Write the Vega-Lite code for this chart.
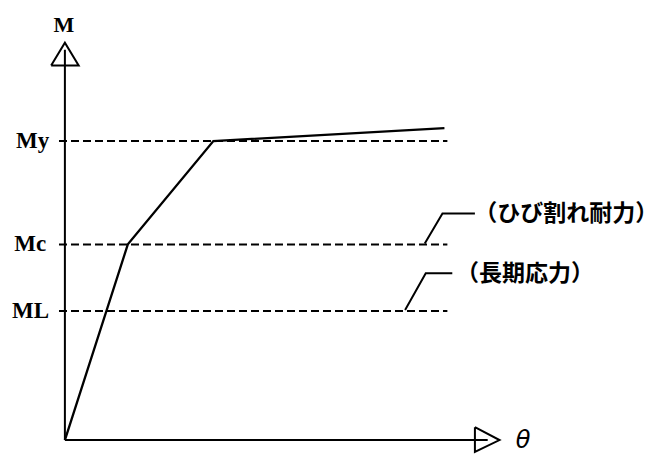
{
  "$schema": "https://vega.github.io/schema/vega-lite/v6.json",
  "width": 657,
  "height": 456,
  "autosize": {"type": "fit", "contains": "padding"},
  "padding": 0,
  "background": "white",
  "config": {"view": {"stroke": null}},
  "datasets": {
    "curve": [
      {"t": 0, "m": 0},
      {"t": 64, "m": 197},
      {"t": 151, "m": 301},
      {"t": 386, "m": 314}
    ],
    "levels": [
      {"name": "My", "t": -6, "t2": 389, "m": 301},
      {"name": "Mc", "t": -6, "t2": 389, "m": 197},
      {"name": "ML", "t": -6, "t2": 389, "m": 130}
    ],
    "axes": [
      {"axis": "M", "t": 0, "m": 0, "t2": 0, "m2": 393},
      {"axis": "θ", "t": 0, "m": 0, "t2": 430, "m2": 0}
    ],
    "arrows": [
      {"axis": "M", "i": 0, "t": -14, "m": 377},
      {"axis": "M", "i": 1, "t": 0, "m": 400},
      {"axis": "M", "i": 2, "t": 14, "m": 377},
      {"axis": "M", "i": 3, "t": -14, "m": 377},
      {"axis": "θ", "i": 0, "t": 417, "m": 13},
      {"axis": "θ", "i": 1, "t": 442, "m": 0},
      {"axis": "θ", "i": 2, "t": 417, "m": -12},
      {"axis": "θ", "i": 3, "t": 417, "m": 13}
    ],
    "leaders": [
      {"note": "crack", "i": 0, "t": 366, "m": 198},
      {"note": "crack", "i": 1, "t": 384, "m": 228},
      {"note": "crack", "i": 2, "t": 417, "m": 228},
      {"note": "long", "i": 0, "t": 346, "m": 131},
      {"note": "long", "i": 1, "t": 367, "m": 168},
      {"note": "long", "i": 2, "t": 394, "m": 168}
    ],
    "levelLabels": [
      {"label": "My", "t": -16, "m": 301},
      {"label": "Mc", "t": -19, "m": 197},
      {"label": "ML", "t": -16, "m": 130}
    ],
    "axisLabels": [
      {"label": "M", "t": -1, "m": 418, "kind": "M"},
      {"label": "θ", "t": 466, "m": -1, "kind": "theta"}
    ],
    "notes": [
      {"label": "（ひび割れ耐力）", "t": 510, "m": 228},
      {"label": "（長期応力）", "t": 468, "m": 167}
    ]
  },
  "encoding": {
    "x": {"field": "t", "type": "quantitative", "scale": {"domain": [-66, 591], "nice": false, "zero": false}, "axis": null},
    "y": {"field": "m", "type": "quantitative", "scale": {"domain": [-13, 443], "nice": false, "zero": false}, "axis": null}
  },
  "layer": [
    {
      "data": {"name": "levels"},
      "mark": {"type": "rule", "color": "black", "strokeWidth": 2, "strokeDash": [8, 4]},
      "encoding": {"x2": {"field": "t2"}}
    },
    {
      "data": {"name": "axes"},
      "mark": {"type": "rule", "color": "black", "strokeWidth": 2},
      "encoding": {"x2": {"field": "t2"}, "y2": {"field": "m2"}}
    },
    {
      "data": {"name": "arrows"},
      "mark": {"type": "line", "color": "black", "strokeWidth": 2, "strokeJoin": "miter"},
      "encoding": {"detail": {"field": "axis"}, "order": {"field": "i"}}
    },
    {
      "data": {"name": "curve"},
      "mark": {"type": "line", "color": "black", "strokeWidth": 2.3, "strokeJoin": "miter"},
      "encoding": {}
    },
    {
      "data": {"name": "leaders"},
      "mark": {"type": "line", "color": "black", "strokeWidth": 2},
      "encoding": {"detail": {"field": "note"}, "order": {"field": "i"}}
    },
    {
      "data": {"name": "levelLabels"},
      "mark": {"type": "text", "align": "right", "baseline": "middle", "font": "Liberation Serif", "fontWeight": "bold", "fontSize": 23, "color": "black"},
      "encoding": {"text": {"field": "label"}}
    },
    {
      "data": {"name": "axisLabels"},
      "transform": [{"filter": "datum.kind === 'M'"}],
      "mark": {"type": "text", "align": "center", "baseline": "middle", "font": "Liberation Serif", "fontWeight": "bold", "fontSize": 22, "color": "black"},
      "encoding": {"text": {"field": "label"}}
    },
    {
      "data": {"name": "axisLabels"},
      "transform": [{"filter": "datum.kind === 'theta'"}],
      "mark": {"type": "text", "align": "center", "baseline": "middle", "font": "DejaVu Sans", "fontStyle": "italic", "fontSize": 24, "color": "black"},
      "encoding": {"text": {"field": "label"}}
    },
    {
      "data": {"name": "notes"},
      "mark": {"type": "text", "align": "center", "baseline": "middle", "font": "Noto Sans CJK JP", "fontWeight": "bold", "fontSize": 23, "color": "black"},
      "encoding": {"text": {"field": "label"}}
    }
  ]
}
